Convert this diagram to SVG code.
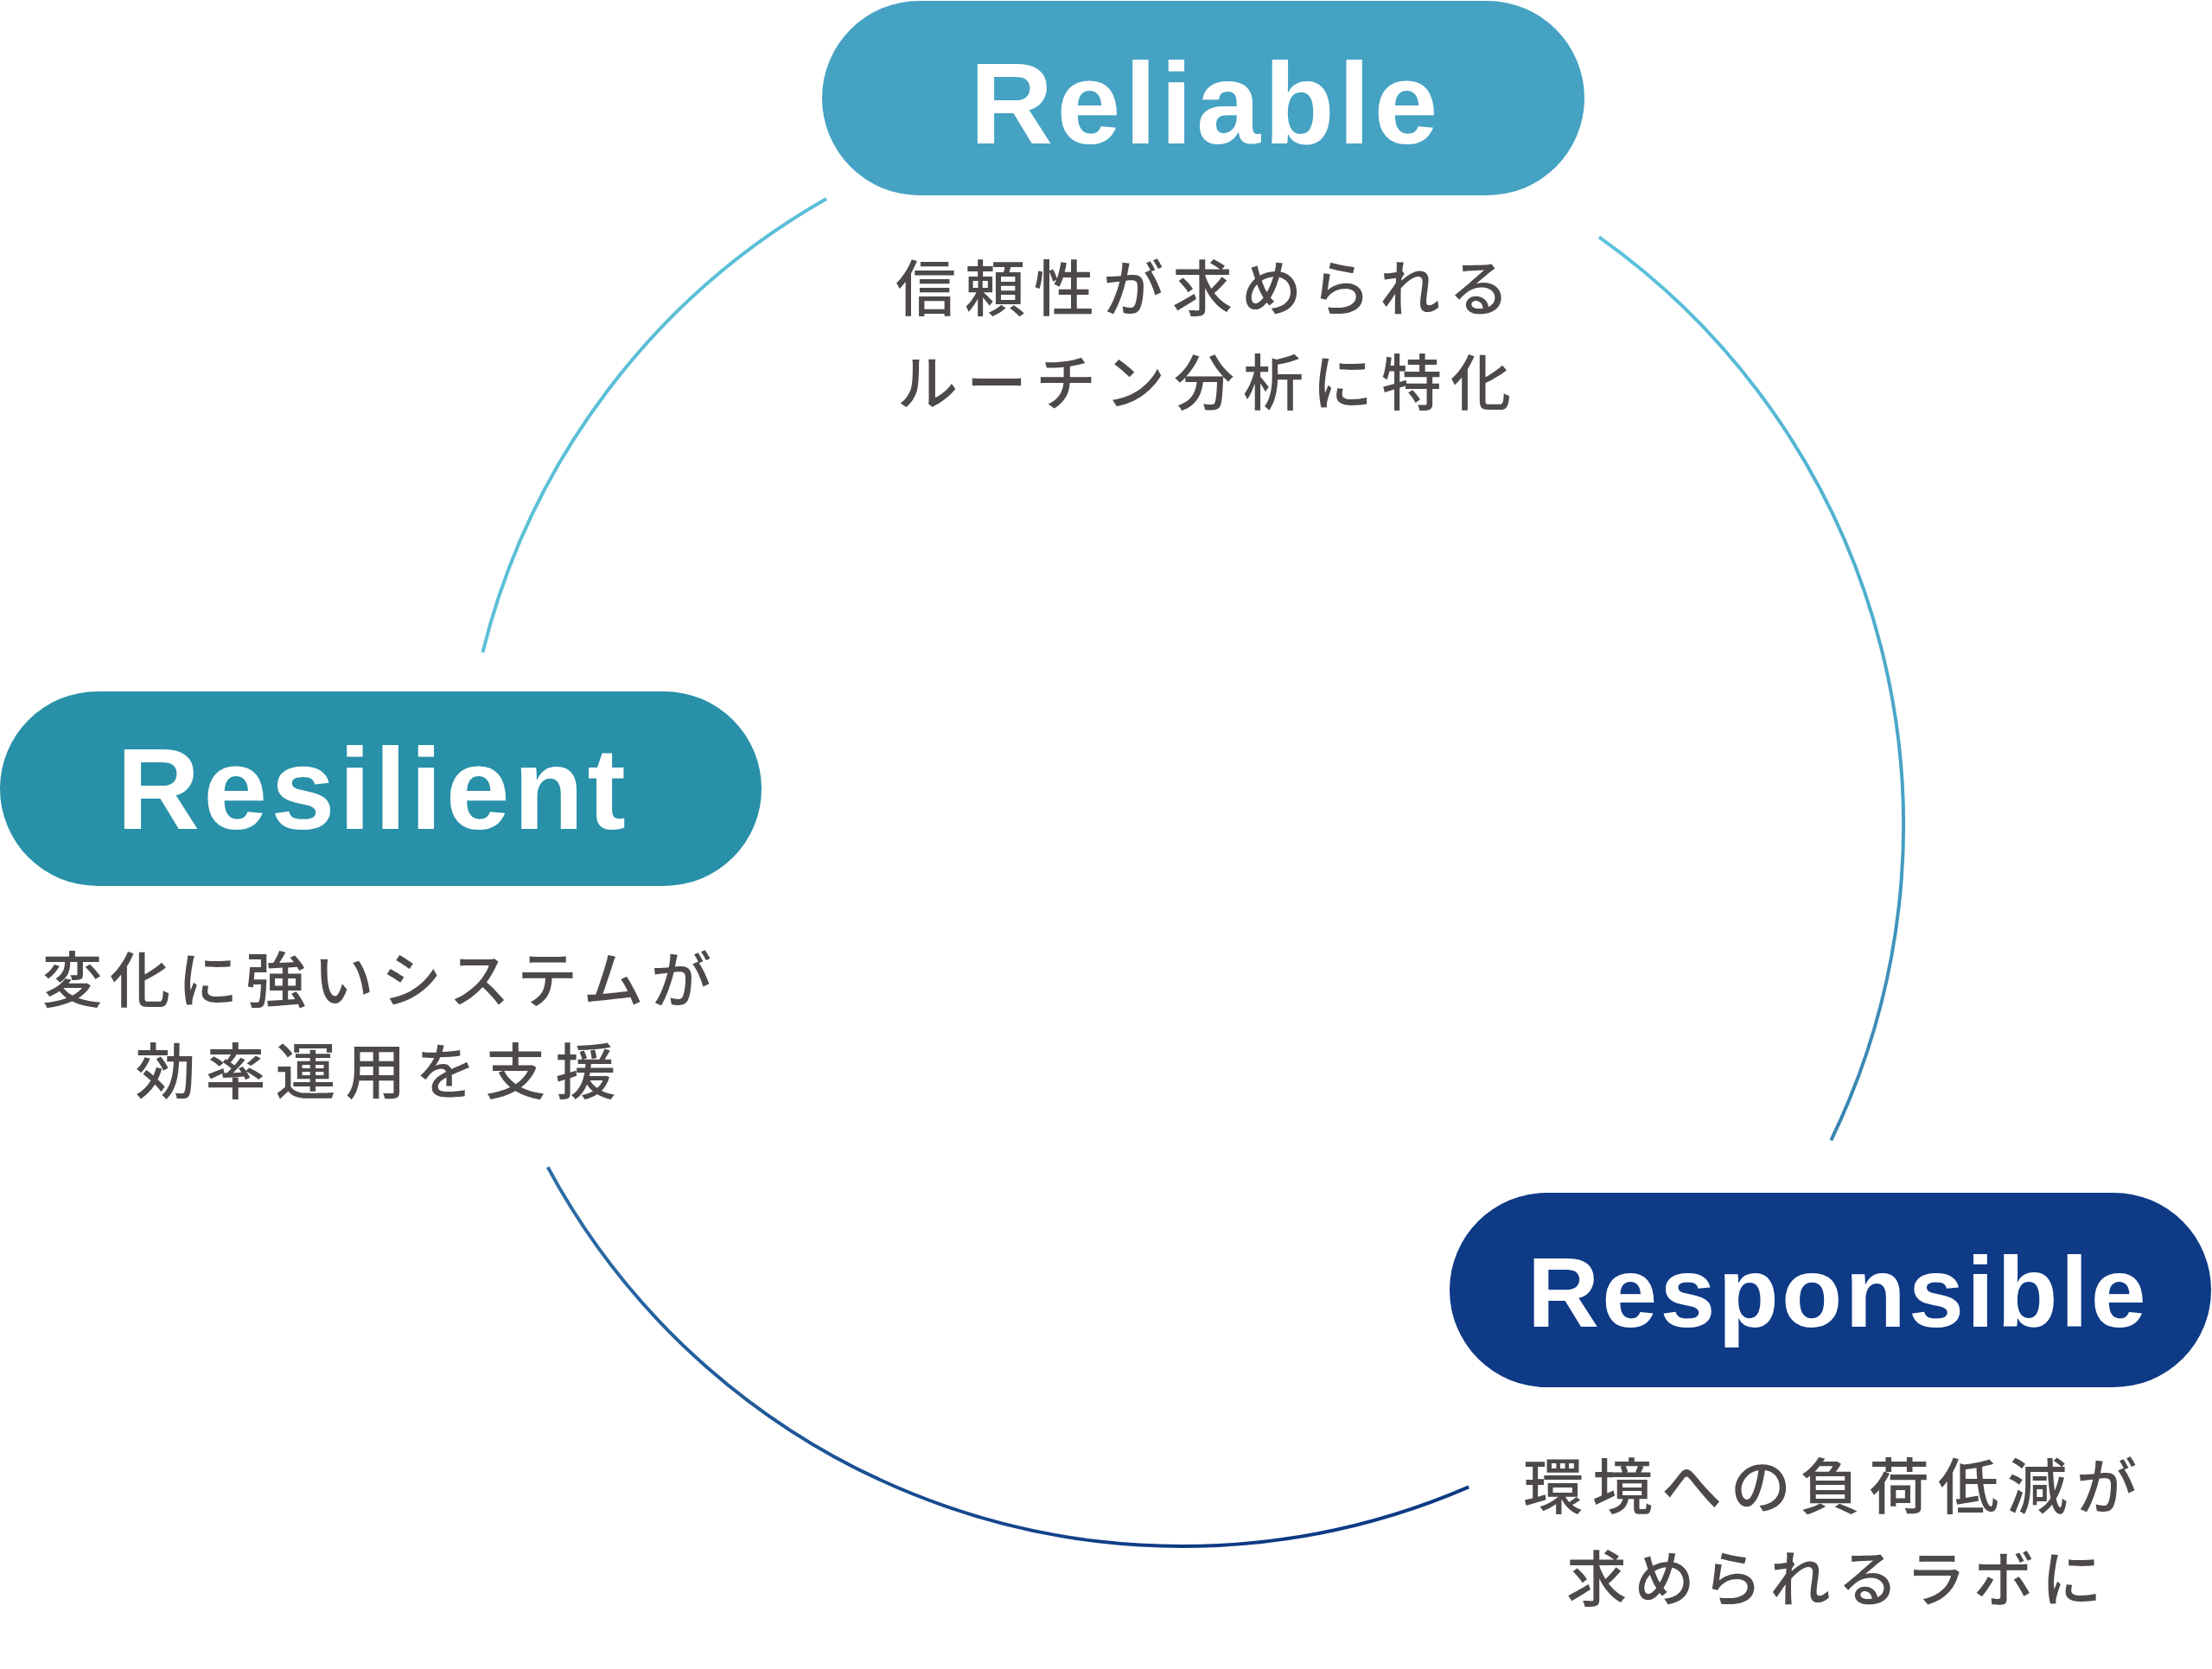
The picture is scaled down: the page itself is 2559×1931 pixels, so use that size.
<svg xmlns="http://www.w3.org/2000/svg" width="2559" height="1931" viewBox="0 0 2559 1931">
<defs>
<linearGradient id="gRight" gradientUnits="userSpaceOnUse" x1="1850" y1="274" x2="2118" y2="1319">
<stop offset="0" stop-color="#5cc3db"/>
<stop offset="0.6" stop-color="#4aa6c8"/>
<stop offset="1" stop-color="#3783b0"/>
</linearGradient>
<linearGradient id="gBottom" gradientUnits="userSpaceOnUse" x1="634" y1="1350" x2="1368" y2="1789">
<stop offset="0" stop-color="#2b6ea6"/>
<stop offset="1" stop-color="#0e3a85"/>
</linearGradient>
</defs>
<style>
.arc{fill:none;stroke-width:4;stroke-linecap:butt}
.title{font-family:"Liberation Sans",Arial,Helvetica,sans-serif;font-weight:700;fill:#ffffff}
.desc{font-family:"Noto Sans CJK JP","Noto Sans",sans-serif;font-weight:500;fill:#4d4949;font-size:70px;letter-spacing:10px;text-anchor:middle}
.narrow{letter-spacing:8.5px}
.wide{letter-spacing:11px}
</style>
<rect width="2559" height="1931" fill="#ffffff"/>
<g id="connectors">
<path class="arc" stroke="#5bbfd7" d="M956,230 A834,834 0 0 0 558.4,754.7"/>
<path class="arc" stroke="url(#gRight)" d="M1850,274.4 A834,834 0 0 1 2118.3,1319.3"/>
<path class="arc" stroke="url(#gBottom)" d="M633.7,1350.4 A834,834 0 0 0 1699.2,1720.4"/>
</g>
<g id="reliable">
<rect x="951" y="1" width="882" height="225" rx="112.5" ry="112.5" fill="#45a2c2"/>
<text class="title" x="1122" y="166" font-size="133" letter-spacing="4.5">Reliable</text>
<text class="desc" x="1396" y="360">信頼性が求められる</text>
<text class="desc" x="1398" y="469">ルーチン分析に特化</text>
</g>
<g id="resilient">
<rect x="0" y="800" width="881" height="225" rx="112.5" ry="112.5" fill="#2890a8"/>
<text class="title" x="135" y="959" font-size="133" letter-spacing="4.3">Resilient</text>
<text class="desc narrow" x="440" y="1160">変化に強いシステムが</text>
<text class="desc wide" x="440" y="1266">効率運用を支援</text>
</g>
<g id="responsible">
<rect x="1677" y="1380" width="881" height="225" rx="112.5" ry="112.5" fill="#0e3a86"/>
<text class="title" x="1767" y="1535" font-size="115" letter-spacing="3.2">Responsible</text>
<text class="desc" x="2122" y="1746">環境への負荷低減が</text>
<text class="desc narrow" x="2126" y="1853">求められるラボに</text>
</g>
</svg>
